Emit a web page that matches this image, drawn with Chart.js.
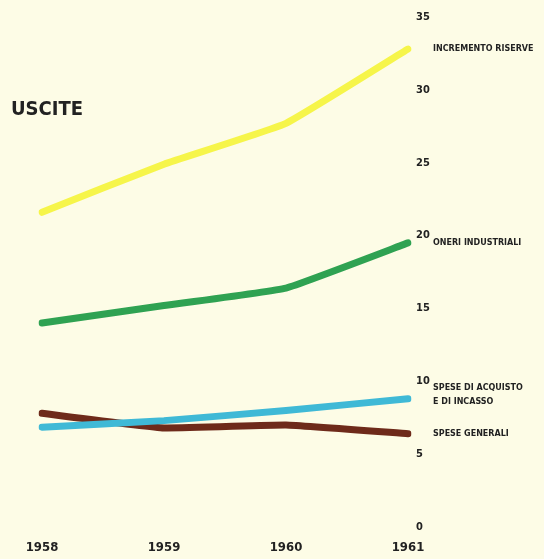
<!DOCTYPE html>
<html>
<head>
<meta charset="utf-8">
<script src="https://cdn.jsdelivr.net/npm/chart.js@4/dist/chart.umd.min.js"></script>
<style>
  html, body { margin: 0; padding: 0; background: #fdfce6; }
  #wrap { width: 544px; height: 559px; position: relative; }
</style>
</head>
<body>
<div id="wrap"><canvas id="chart" width="544" height="559"></canvas></div>
<script>
var years = ['1958', '1959', '1960', '1961'];
var yTicks = [0, 5, 10, 15, 20, 25, 30, 35];

var incrementoRiserve = [21.6, 24.9, 27.7, 32.8];
var oneriIndustriali = [14.0, 15.2, 16.4, 19.5];
var speseAcquisto = [6.85, 7.3, 8.0, 8.8];
var speseGenerali = [7.8, 6.8, 7.0, 6.4];

var seriesNames = [
  ['INCREMENTO RISERVE'],
  ['ONERI INDUSTRIALI'],
  ['SPESE DI ACQUISTO', 'E DI INCASSO'],
  ['SPESE GENERALI']
];
var seriesColors = ['#f6f54a', '#2fa252', '#3fb9d6', '#6e2a1a'];

// labels at the right of each line end, plus the title
var sideLabels = {
  id: 'sideLabels',
  afterDraw: function(chart) {
    var ctx = chart.ctx;
    ctx.save();
    ctx.fillStyle = '#222';
    ctx.font = 'bold 20px "DejaVu Sans Condensed", "Liberation Sans Narrow", sans-serif';
    ctx.textBaseline = 'middle';
    ctx.textAlign = 'left';
    ctx.fillText('USCITE', 11, 110);

    ctx.font = 'bold 8px "DejaVu Sans", sans-serif';
    var shifts = [0, 0, -4, 0];
    chart.data.datasets.forEach(function(ds, i) {
      var meta = chart.getDatasetMeta(i);
      var last = meta.data[meta.data.length - 1];
      var lines = seriesNames[i];
      var y = last.y + shifts[i] - (lines.length - 1) * 7;
      lines.forEach(function(t, k) {
        ctx.fillText(t, 433, y + k * 14);
      });
    });
    ctx.restore();
  }
};

function makeSet(data, i) {
  return {
    label: seriesNames[i].join(' '),
    data: data,
    borderColor: seriesColors[i],
    backgroundColor: seriesColors[i],
    borderWidth: 7,
    pointRadius: 0,
    borderCapStyle: 'round',
    borderJoinStyle: 'round',
    tension: 0.1
  };
}

new Chart(document.getElementById('chart'), {
  type: 'line',
  data: {
    labels: years,
    datasets: [
      makeSet(incrementoRiserve, 0),
      makeSet(oneriIndustriali, 1),
      makeSet(speseAcquisto, 2),
      makeSet(speseGenerali, 3)
    ]
  },
  options: {
    responsive: false,
    animation: false,
    layout: { padding: { left: 42, top: 17, right: 0, bottom: 0 } },
    plugins: {
      legend: { display: false },
      tooltip: { enabled: false }
    },
    scales: {
      x: {
        offset: false,
        grid: { display: false },
        border: { display: false },
        ticks: {
          color: '#222',
          padding: 5,
          maxRotation: 0,
          font: { family: '"DejaVu Sans Condensed", sans-serif', size: 13, weight: 'bold' }
        },
        afterFit: function(s) { s.height = 32; }
      },
      y: {
        position: 'right',
        min: 0,
        max: 35,
        grid: { display: false },
        border: { display: false },
        afterBuildTicks: function(s) {
          s.ticks = yTicks.map(function(v) { return { value: v }; });
        },
        ticks: {
          color: '#222',
          padding: 0,
          autoSkip: false,
          crossAlign: 'near',
          font: { family: '"DejaVu Sans Condensed", sans-serif', size: 11, weight: 'bold' }
        },
        afterFit: function(s) { s.width = 136; }
      }
    }
  },
  plugins: [sideLabels]
});
</script>
</body>
</html>
